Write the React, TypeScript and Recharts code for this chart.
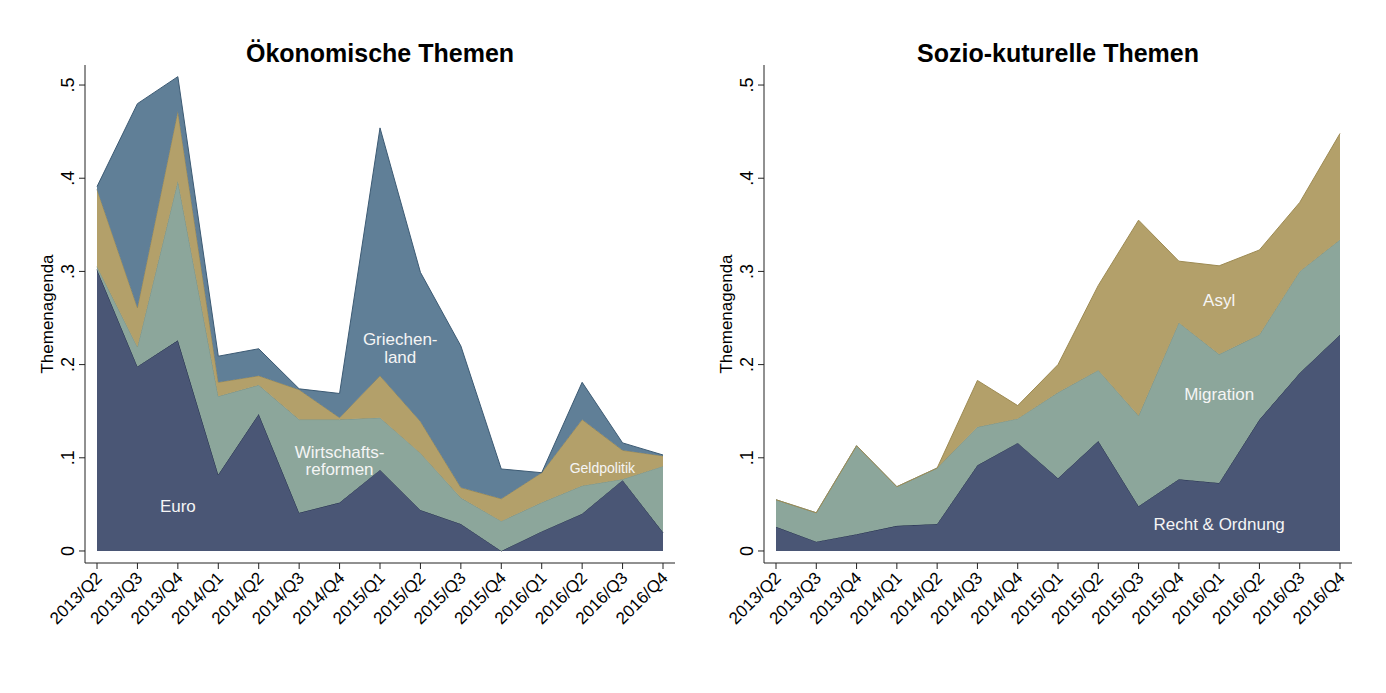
import React from "react";
import { Area, AreaChart, Label, ReferenceDot, XAxis, YAxis } from "recharts";

const quarters = [
    "2013/Q2", "2013/Q3", "2013/Q4", "2014/Q1", "2014/Q2", "2014/Q3", "2014/Q4", "2015/Q1",
    "2015/Q2", "2015/Q3", "2015/Q4", "2016/Q1", "2016/Q2", "2016/Q3", "2016/Q4",
];

// Ökonomische Themen (stacked, bottom to top)
const euro = [0.302, 0.198, 0.226, 0.082, 0.147, 0.041, 0.052, 0.087, 0.044, 0.029, 0.0, 0.021, 0.04, 0.076, 0.02];
const wirtschaftsreformen = [0.003, 0.021, 0.171, 0.084, 0.031, 0.1, 0.089, 0.056, 0.061, 0.028, 0.032, 0.031, 0.03, 0.001, 0.071];
const geldpolitik = [0.083, 0.042, 0.075, 0.015, 0.01, 0.032, 0.002, 0.045, 0.034, 0.011, 0.024, 0.032, 0.071, 0.031, 0.011];
const griechenland = [0.003, 0.219, 0.037, 0.028, 0.029, 0.001, 0.026, 0.266, 0.16, 0.152, 0.032, 0.0, 0.04, 0.008, 0.001];

// Sozio-kulturelle Themen (stacked, bottom to top)
const rechtOrdnung = [0.026, 0.01, 0.018, 0.027, 0.029, 0.092, 0.116, 0.078, 0.118, 0.048, 0.077, 0.073, 0.141, 0.191, 0.232];
const migration = [0.029, 0.031, 0.095, 0.042, 0.06, 0.041, 0.026, 0.092, 0.076, 0.097, 0.168, 0.138, 0.091, 0.109, 0.102];
const asyl = [0, 0, 0, 0, 0, 0.05, 0.014, 0.03, 0.091, 0.21, 0.066, 0.095, 0.091, 0.074, 0.114];

const yTicks = [0, 0.1, 0.2, 0.3, 0.4, 0.5];
const xTicks = quarters.map((_, i) => i);

const econData = quarters.map((q, i) => ({
    i,
    q,
    euro: euro[i],
    wirtschaft: wirtschaftsreformen[i],
    geld: geldpolitik[i],
    griechenland: griechenland[i],
}));

const socioData = quarters.map((q, i) => ({
    i,
    q,
    recht: rechtOrdnung[i],
    migration: migration[i],
    asyl: asyl[i],
}));

const FONT = "'Liberation Sans', Arial, sans-serif";
const NAVY = { fill: "#4a5675", stroke: "#1f2b48" };
const SAGE = { fill: "#8ca69b", stroke: "#77938a" };
const TAN = { fill: "#b3a06a", stroke: "#9d8a52" };
const STEEL = { fill: "#607f97", stroke: "#3c5a73" };

const XTick = ({ x, y, payload }: any) => (
    <text
        transform={`translate(${x + 6},${y + 8}) rotate(-45)`}
        textAnchor="end"
        fontSize={17}
        fontFamily={FONT}
        fill="#000"
    >
        {quarters[payload.value]}
    </text>
);

const YTick = ({ x, y, payload }: any) => {
    const label = payload.value === 0 ? "0" : String(+payload.value.toFixed(1)).replace("0.", ".");
    return (
        <text
            transform={`translate(${x - 3},${y}) rotate(-90)`}
            textAnchor="middle"
            fontSize={18}
            fontFamily={FONT}
            fill="#000"
        >
            {label}
        </text>
    );
};

// axis title, placed relative to the y axis line
const YLabel = ({ viewBox }: any) => {
    const lx = viewBox.x + viewBox.width - 32;
    const ly = viewBox.y + viewBox.height / 2;
    return (
        <text
            transform={`translate(${lx},${ly}) rotate(-90)`}
            textAnchor="middle"
            fontSize={17}
            fontFamily={FONT}
            fill="#000"
        >
            Themenagenda
        </text>
    );
};

// text written inside the areas
const AreaText = (x: number, y: number, text: string, size = 17) => (
    <ReferenceDot
        key={text}
        x={x}
        y={y}
        r={0}
        fill="none"
        stroke="none"
        label={{ value: text, position: "center", fill: "#f5f5f5", fontSize: size, fontFamily: FONT }}
    />
);

function Panel({ title, data, left, right, children }: any) {
    const plotLeft = 60 + left;
    const plotRight = 693 - right;
    return (
        <div style={{ position: "relative", width: 693, height: 693 }}>
            <div
                style={{
                    position: "absolute",
                    top: 41,
                    left: plotLeft,
                    width: plotRight - plotLeft,
                    textAlign: "center",
                    fontFamily: FONT,
                    fontWeight: "bold",
                    fontSize: 25,
                    lineHeight: "25px",
                    color: "#000",
                }}
            >
                {title}
            </div>
            <AreaChart width={693} height={693} data={data} margin={{ top: 65, right, bottom: 30, left }}>
                <XAxis
                    type="number"
                    dataKey="i"
                    domain={[0, 14]}
                    ticks={xTicks}
                    interval={0}
                    padding={{ left: 12, right: 12 }}
                    height={100}
                    axisLine={{ stroke: "#222" }}
                    tickLine={{ stroke: "#222" }}
                    tick={<XTick />}
                />
                <YAxis
                    type="number"
                    domain={[-0.0129, 0.5215]}
                    ticks={yTicks}
                    interval={0}
                    width={60}
                    axisLine={{ stroke: "#222" }}
                    tickLine={{ stroke: "#222" }}
                    tick={<YTick />}
                >
                    <Label content={<YLabel />} />
                </YAxis>
                {children}
            </AreaChart>
        </div>
    );
}

export default function App() {
    return (
        <div style={{ display: "flex", width: 1386, height: 693, background: "#fff" }}>
            <style>{`body{margin:0;background:#fff}`}</style>
            <Panel title="Ökonomische Themen" data={econData} left={25} right={18}>
                <Area type="linear" dataKey="euro" stackId="a" fill={NAVY.fill} stroke={NAVY.stroke} fillOpacity={1} isAnimationActive={false} />
                <Area type="linear" dataKey="wirtschaft" stackId="a" fill={SAGE.fill} stroke={SAGE.stroke} fillOpacity={1} isAnimationActive={false} />
                <Area type="linear" dataKey="geld" stackId="a" fill={TAN.fill} stroke={TAN.stroke} fillOpacity={1} isAnimationActive={false} />
                <Area type="linear" dataKey="griechenland" stackId="a" fill={STEEL.fill} stroke={STEEL.stroke} fillOpacity={1} isAnimationActive={false} />
                {AreaText(2, 0.048, "Euro")}
                {AreaText(6, 0.106, "Wirtschafts-")}
                {AreaText(6, 0.088, "reformen")}
                {AreaText(7.5, 0.227, "Griechen-")}
                {AreaText(7.5, 0.208, "land")}
                {AreaText(12.5, 0.089, "Geldpolitik", 14)}
            </Panel>
            <Panel title="Sozio-kuturelle Themen" data={socioData} left={11} right={34}>
                <Area type="linear" dataKey="recht" stackId="a" fill={NAVY.fill} stroke={NAVY.stroke} fillOpacity={1} isAnimationActive={false} />
                <Area type="linear" dataKey="migration" stackId="a" fill={SAGE.fill} stroke={SAGE.stroke} fillOpacity={1} isAnimationActive={false} />
                <Area type="linear" dataKey="asyl" stackId="a" fill={TAN.fill} stroke={TAN.stroke} fillOpacity={1} isAnimationActive={false} />
                {AreaText(11, 0.269, "Asyl")}
                {AreaText(11, 0.168, "Migration")}
                {AreaText(11, 0.029, "Recht & Ordnung")}
            </Panel>
        </div>
    );
}
